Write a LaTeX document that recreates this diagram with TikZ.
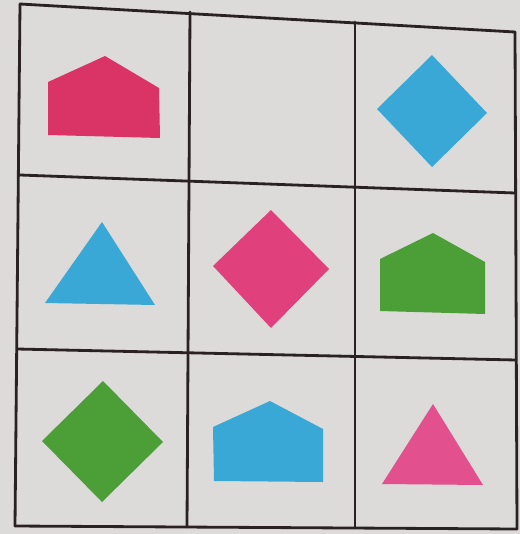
\documentclass[tikz,border=0pt]{standalone}
\definecolor{paper}{HTML}{DCDBDA}
\definecolor{gridline}{HTML}{2A2222}
\definecolor{crimson}{HTML}{DA3466}
\definecolor{sky}{HTML}{3AA8D6}
\definecolor{leaf}{HTML}{4C9E36}
\definecolor{rose}{HTML}{E0407C}
\definecolor{rosetri}{HTML}{E2508E}
\begin{document}
\begin{tikzpicture}[x=0.02cm,y=-0.02cm,
  gridstroke/.style={draw=gridline,line width=1.6pt,line cap=round}]
\fill[paper] (0,0) rectangle (520,534);
\useasboundingbox (0,0) rectangle (520,534);
% grid corner coordinates
\coordinate (a0) at (20,4);   \coordinate (a1) at (190,12);  \coordinate (a2) at (355,22);  \coordinate (a3) at (515,32);
\coordinate (b0) at (20,175); \coordinate (b3) at (515,193);
\coordinate (c0) at (17,349); \coordinate (c3) at (516,360);
\coordinate (d0) at (15,526); \coordinate (d1) at (187,527); \coordinate (d2) at (355,528); \coordinate (d3) at (517,529);
% grid lines
\draw[gridstroke] (a0) -- (a3);
\draw[gridstroke] (a3) -- (d3);
\draw[gridstroke] (d3) -- (d0);
\draw[gridstroke] (d0) -- (a0);
\draw[gridstroke] (b0) -- (b3);
\draw[gridstroke] (c0) -- (c3);
\draw[gridstroke] (a1) -- (d1);
\draw[gridstroke] (a2) -- (d2);
% row 1
\fill[crimson] (48,82) -- (105,56) -- (159,88) -- (160,138) -- (48,135) -- cycle;
\fill[sky] (432,55) -- (487,113) -- (432,167) -- (377,109) -- cycle;
% row 2
\fill[sky] (102,222) -- (155,305) -- (45,303) -- cycle;
\fill[rose] (271,210) -- (329,269) -- (271,328) -- (213,266) -- cycle;
\fill[leaf] (380,259) -- (433,233) -- (485,262) -- (485,314) -- (380,311) -- cycle;
% row 3
\fill[leaf] (103,381) -- (163,442) -- (102,502) -- (42,441) -- cycle;
\fill[sky] (213,427) -- (270,401) -- (323,429) -- (323,482) -- (214,481) -- cycle;
\fill[rosetri] (433,404) -- (483,485) -- (382,484) -- cycle;
\end{tikzpicture}
\end{document}
